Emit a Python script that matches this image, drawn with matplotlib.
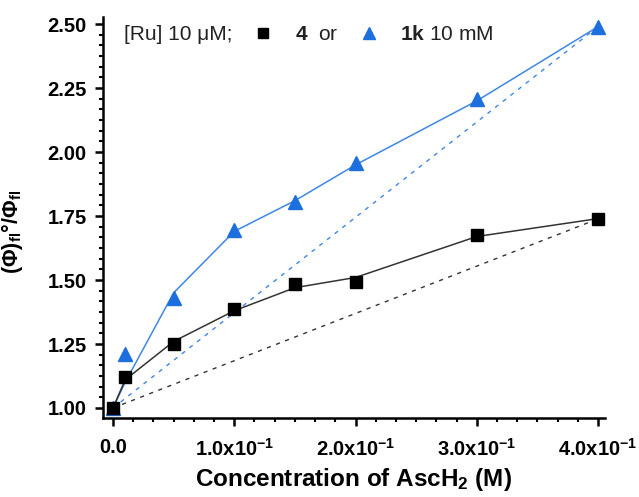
import matplotlib
matplotlib.use("Agg")
import matplotlib.pyplot as plt
from matplotlib.lines import Line2D
from matplotlib.ticker import AutoMinorLocator, FixedLocator

plt.rcParams['font.family'] = ['Liberation Sans', 'DejaVu Sans']
plt.rcParams['mathtext.fontset'] = 'custom'
plt.rcParams['mathtext.rm'] = 'Liberation Sans'
plt.rcParams['mathtext.bf'] = 'Liberation Sans:bold'
plt.rcParams['mathtext.default'] = 'regular'

# data
conc = [0.0, 0.01, 0.05, 0.10, 0.15, 0.20, 0.30, 0.40]
ratio_4 = [1.00, 1.12, 1.25, 1.385, 1.483, 1.494, 1.674, 1.739]
ratio_1k = [1.00, 1.21, 1.43, 1.696, 1.803, 1.957, 2.208, 2.49]
# fitted curves (solid lines)
fit_4 = [1.00, 1.11, 1.26, 1.38, 1.47, 1.51, 1.67, 1.74]
fit_1k = [1.00, 1.10, 1.45, 1.69, 1.81, 1.95, 2.20, 2.49]

xticks = [0.0, 0.1, 0.2, 0.3, 0.4]
xlabels = ['0.0', '1.0x10$^{-1}$', '2.0x10$^{-1}$', '3.0x10$^{-1}$', '4.0x10$^{-1}$']
yticks = [1.00, 1.25, 1.50, 1.75, 2.00, 2.25, 2.50]

blue = '#1c6fdd'
blue_line = '#3f87e6'

fig = plt.figure(figsize=(6.39, 4.97), dpi=100)
ax = fig.add_axes([0.1607, 0.159, 0.7863, 0.807])

# straight reference lines between first and last point
ax.plot([conc[0], conc[-1]], [ratio_1k[0], ratio_1k[-1]], color=blue_line,
        lw=1.0, linestyle=(0, (3, 4)))
ax.plot([conc[0], conc[-1]], [ratio_4[0], ratio_4[-1]], color='#333333',
        lw=1.0, linestyle=(0, (3, 4)))

ax.plot(conc, fit_1k, color=blue_line, lw=1.1)
ax.plot(conc, fit_4, color='#333333', lw=1.1)
ax.plot(conc, ratio_1k, '^', color=blue, ms=9.5, mec=blue, ls='none')
ax.plot(conc, ratio_4, 's', color='black', ms=8.5, mec='black', ls='none')

ax.set_xlim(-0.0085, 0.4058)
ax.set_ylim(0.961, 2.528)

ax.xaxis.set_major_locator(FixedLocator(xticks))
ax.set_xticklabels(xlabels)
ax.yaxis.set_major_locator(FixedLocator(yticks))
ax.set_yticklabels(['%.2f' % v for v in yticks])
ax.xaxis.set_minor_locator(AutoMinorLocator(6))
ax.yaxis.set_minor_locator(AutoMinorLocator(6))

for side in ['top', 'right']:
    ax.spines[side].set_visible(False)
for side in ['left', 'bottom']:
    ax.spines[side].set_linewidth(1.8)

ax.tick_params(which='major', direction='out', length=5.5, width=1.8,
               labelsize=14.5, pad=6)
ax.tick_params(which='minor', direction='out', length=3, width=1.5)
ax.tick_params(axis='x', which='major', pad=9)
for lab in ax.get_xticklabels() + ax.get_yticklabels():
    lab.set_fontweight('bold')

ax.set_xlabel('Concentration of AscH$_2$ (M)', fontsize=17.5, fontweight='bold',
              labelpad=4)
ax.set_ylabel('(\u03a6)$_{fl}$\u00b0/\u03a6$_{fl}$', fontsize=15.5,
              fontweight='bold')
ax.yaxis.set_label_coords(-0.155, 0.465)

handles = [
    Line2D([], [], ls='none'),
    Line2D([], [], marker='s', color='black', ls='none', ms=7),
    Line2D([], [], marker='^', color=blue, ls='none', ms=8.5),
]
labels = ['[Ru] 10 \u03bcM;', '$\\mathbf{4}$  or', '$\\mathbf{1k}$ 10 mM']
leg = ax.legend(handles, labels, loc='upper left', ncol=3, frameon=False,
                fontsize=15, handlelength=0.8, handletextpad=1.1,
                columnspacing=1.1, bbox_to_anchor=(-0.037, 0.98),
                borderaxespad=0.0, borderpad=0.0)
for t in leg.get_texts():
    t.set_color('#222222')

fig.savefig('out.png', dpi=100)
